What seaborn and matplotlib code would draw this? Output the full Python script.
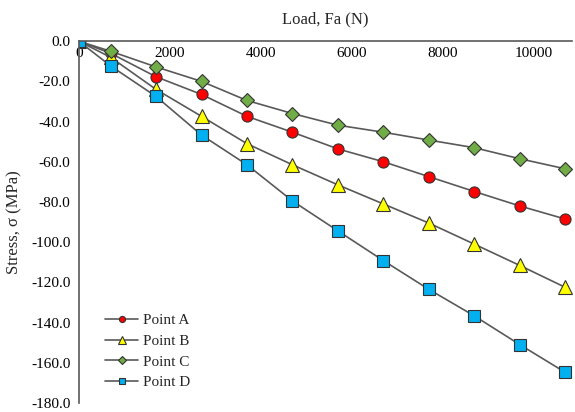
import matplotlib
matplotlib.use("Agg")
import matplotlib.pyplot as plt
import numpy as np
import pandas as pd
import seaborn as sns

# load steps (N)
load = [0, 700, 1700, 2700, 3700, 4700, 5700, 6700, 7700, 8700, 9700, 10700]

# stress values (MPa)
point_a = [0.0, -6.0, -17.7, -26.5, -37.4, -45.3, -53.6, -60.0, -67.4, -74.8, -82.0, -88.5]
point_b = [0.0, -8.0, -24.0, -37.4, -51.0, -61.5, -71.5, -81.0, -90.5, -101.0, -111.6, -122.5]
point_c = [0.0, -5.0, -12.8, -20.0, -29.5, -36.0, -41.8, -45.3, -49.2, -53.0, -58.5, -63.5]
point_d = [0.0, -12.3, -27.5, -46.7, -61.5, -79.5, -94.4, -109.2, -123.5, -136.7, -151.0, -164.8]

series_names = ["Point A", "Point B", "Point C", "Point D"]
series_vals = [point_a, point_b, point_c, point_d]
face_colors = ["#FF0000", "#FFFF00", "#70AD47", "#00B0F0"]
markers = ["o", "^", "D", "s"]
marker_sizes = [8, 9.5, 7, 8]

df = pd.DataFrame({"Load": load})
for name, vals in zip(series_names, series_vals):
    df[name] = vals

sns.set_theme(style="white")
plt.rcParams['font.family'] = ['Liberation Serif', 'DejaVu Serif']

fig = plt.figure(figsize=(5.75, 4.12), dpi=100)
# axes box: y=0 at 41px, y=-180 near bottom edge
ax = fig.add_axes([0.137, 0.022, 0.858, 0.878])

line_col = "#595959"
for name, fc, mk, ms in zip(series_names, face_colors, markers, marker_sizes):
    sns.lineplot(data=df, x="Load", y=name, ax=ax, color=line_col, linewidth=1.2,
                 marker=mk, markersize=ms, markerfacecolor=fc,
                 markeredgecolor="#333333", markeredgewidth=0.8, label=name)

ax.set_xlim(0, 10850)
ax.set_ylim(-180, 0)
ax.set_xticks([0, 2000, 4000, 6000, 8000, 10000])
ax.set_yticks(np.arange(-180, 1, 20))
ax.yaxis.set_major_formatter(matplotlib.ticker.FormatStrFormatter('%.1f'))

# x axis sits at y = 0 (top), labels under the line
ax.spines['bottom'].set_position(('data', 0))
ax.spines['top'].set_visible(False)
ax.spines['right'].set_visible(False)
for s in ['bottom', 'left']:
    ax.spines[s].set_color(line_col)
    ax.spines[s].set_linewidth(1.2)
ax.xaxis.set_label_position('top')
ax.tick_params(axis='both', length=0, labelsize=11, colors='black')
ax.tick_params(axis='x', pad=4)
ax.tick_params(axis='y', pad=6)

ax.set_xlabel("Load, Fa (N)", fontsize=12, labelpad=13)
ax.set_ylabel("Stress, σ (MPa)", fontsize=12, labelpad=6)
ax.grid(False)

ax.legend(loc='lower left', bbox_to_anchor=(0.025, 0.0), frameon=False,
          fontsize=11, markerscale=0.55, handlelength=2.2, labelspacing=0.45,
          handletextpad=0.3)

fig.savefig("out.png", dpi=100)
